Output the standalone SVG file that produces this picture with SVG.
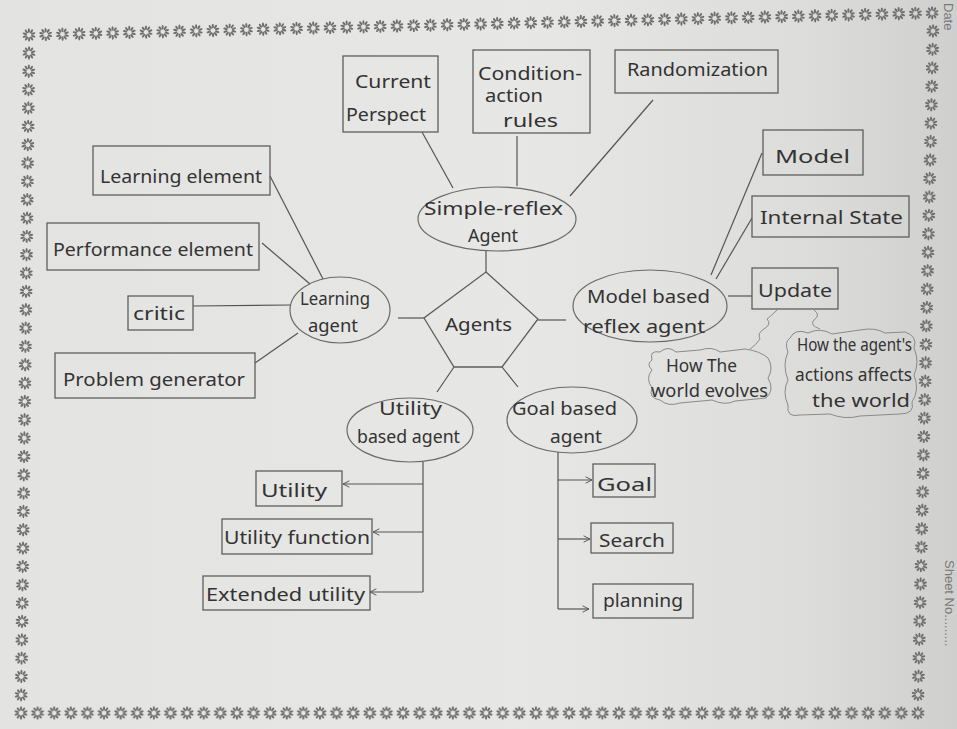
<svg xmlns="http://www.w3.org/2000/svg" xmlns:xlink="http://www.w3.org/1999/xlink" width="957" height="729" viewBox="0 0 957 729">
<style>
.t{font-family:"Noto Sans","DejaVu Sans",sans-serif;fill:#333;font-size:18px}
.box{fill:none;stroke:#5e5e5e;stroke-width:1.3}
.ell{fill:none;stroke:#6a6a6a;stroke-width:1.2}
.ln{fill:none;stroke:#555;stroke-width:1.2}
.cl{fill:none;stroke:#8a8a8a;stroke-width:1}
.pet{fill:#6e6e6e}
.side{font-family:"Liberation Sans",sans-serif;fill:#7a7a7a;font-size:13px}
</style>
<defs>
<linearGradient id="paper" x1="0" y1="0" x2="1" y2="0">
<stop offset="0" stop-color="#e3e3e1"/>
<stop offset="0.55" stop-color="#e7e7e5"/>
<stop offset="0.85" stop-color="#dcdcda"/>
<stop offset="1" stop-color="#cfcfcd"/>
</linearGradient>
<g id="fl">
<ellipse class="pet" cx="0" cy="-4.4" rx="1.05" ry="2.3"/>
<ellipse class="pet" cx="0" cy="-4.4" rx="1.05" ry="2.3" transform="rotate(36)"/>
<ellipse class="pet" cx="0" cy="-4.4" rx="1.05" ry="2.3" transform="rotate(72)"/>
<ellipse class="pet" cx="0" cy="-4.4" rx="1.05" ry="2.3" transform="rotate(108)"/>
<ellipse class="pet" cx="0" cy="-4.4" rx="1.05" ry="2.3" transform="rotate(144)"/>
<ellipse class="pet" cx="0" cy="-4.4" rx="1.05" ry="2.3" transform="rotate(180)"/>
<ellipse class="pet" cx="0" cy="-4.4" rx="1.05" ry="2.3" transform="rotate(216)"/>
<ellipse class="pet" cx="0" cy="-4.4" rx="1.05" ry="2.3" transform="rotate(252)"/>
<ellipse class="pet" cx="0" cy="-4.4" rx="1.05" ry="2.3" transform="rotate(288)"/>
<ellipse class="pet" cx="0" cy="-4.4" rx="1.05" ry="2.3" transform="rotate(324)"/>
</g>
<pattern id="rowH" x="21" y="705" width="16.61" height="16" patternUnits="userSpaceOnUse"><use href="#fl" x="0" y="8"/><use href="#fl" x="16.61" y="8"/></pattern>
<marker id="ar" viewBox="0 0 10 10" refX="9" refY="5" markerWidth="8" markerHeight="8" orient="auto" markerUnits="userSpaceOnUse">
<path d="M1,1 L9,5 L1,9" fill="none" stroke="#555" stroke-width="1.2"/>
</marker>
</defs>

<rect width="957" height="729" fill="url(#paper)"/>

<g id="border">
<g transform="translate(29,35) rotate(-1.4)">
<use href="#fl" x="0"/><use href="#fl" x="16.7"/><use href="#fl" x="33.5"/><use href="#fl" x="50.2"/><use href="#fl" x="66.9"/><use href="#fl" x="83.7"/><use href="#fl" x="100.4"/><use href="#fl" x="117.1"/><use href="#fl" x="133.8"/><use href="#fl" x="150.6"/><use href="#fl" x="167.3"/><use href="#fl" x="184"/><use href="#fl" x="200.8"/><use href="#fl" x="217.5"/><use href="#fl" x="234.2"/><use href="#fl" x="251"/><use href="#fl" x="267.7"/><use href="#fl" x="284.4"/><use href="#fl" x="301.1"/><use href="#fl" x="317.9"/><use href="#fl" x="334.6"/><use href="#fl" x="351.3"/><use href="#fl" x="368.1"/><use href="#fl" x="384.8"/><use href="#fl" x="401.5"/><use href="#fl" x="418.3"/><use href="#fl" x="435"/><use href="#fl" x="451.7"/><use href="#fl" x="468.4"/><use href="#fl" x="485.2"/><use href="#fl" x="501.9"/><use href="#fl" x="518.6"/><use href="#fl" x="535.4"/><use href="#fl" x="552.1"/><use href="#fl" x="568.8"/><use href="#fl" x="585.6"/><use href="#fl" x="602.3"/><use href="#fl" x="619"/><use href="#fl" x="635.7"/><use href="#fl" x="652.5"/><use href="#fl" x="669.2"/><use href="#fl" x="685.9"/><use href="#fl" x="702.7"/><use href="#fl" x="719.4"/><use href="#fl" x="736.1"/><use href="#fl" x="752.9"/><use href="#fl" x="769.6"/><use href="#fl" x="786.3"/><use href="#fl" x="803"/><use href="#fl" x="819.8"/><use href="#fl" x="836.5"/><use href="#fl" x="853.2"/><use href="#fl" x="870"/><use href="#fl" x="886.7"/><use href="#fl" x="903.4"/>
</g>
<g transform="translate(29,53) rotate(0.7)">
<use href="#fl" y="0"/><use href="#fl" y="18.3"/><use href="#fl" y="36.7"/><use href="#fl" y="55"/><use href="#fl" y="73.4"/><use href="#fl" y="91.7"/><use href="#fl" y="110"/><use href="#fl" y="128.4"/><use href="#fl" y="146.7"/><use href="#fl" y="165.1"/><use href="#fl" y="183.4"/><use href="#fl" y="201.7"/><use href="#fl" y="220.1"/><use href="#fl" y="238.4"/><use href="#fl" y="256.8"/><use href="#fl" y="275.1"/><use href="#fl" y="293.4"/><use href="#fl" y="311.8"/><use href="#fl" y="330.1"/><use href="#fl" y="348.5"/><use href="#fl" y="366.8"/><use href="#fl" y="385.1"/><use href="#fl" y="403.5"/><use href="#fl" y="421.8"/><use href="#fl" y="440.2"/><use href="#fl" y="458.5"/><use href="#fl" y="476.8"/><use href="#fl" y="495.2"/><use href="#fl" y="513.5"/><use href="#fl" y="531.9"/><use href="#fl" y="550.2"/><use href="#fl" y="568.5"/><use href="#fl" y="586.9"/><use href="#fl" y="605.2"/><use href="#fl" y="623.6"/><use href="#fl" y="641.9"/>
</g>
<g transform="translate(933,31) rotate(1.29)">
<use href="#fl" y="0"/><use href="#fl" y="18.4"/><use href="#fl" y="36.9"/><use href="#fl" y="55.3"/><use href="#fl" y="73.8"/><use href="#fl" y="92.2"/><use href="#fl" y="110.6"/><use href="#fl" y="129.1"/><use href="#fl" y="147.5"/><use href="#fl" y="166"/><use href="#fl" y="184.4"/><use href="#fl" y="202.8"/><use href="#fl" y="221.3"/><use href="#fl" y="239.7"/><use href="#fl" y="258.2"/><use href="#fl" y="276.6"/><use href="#fl" y="295"/><use href="#fl" y="313.5"/><use href="#fl" y="331.9"/><use href="#fl" y="350.4"/><use href="#fl" y="368.8"/><use href="#fl" y="387.2"/><use href="#fl" y="405.7"/><use href="#fl" y="424.1"/><use href="#fl" y="442.6"/><use href="#fl" y="461"/><use href="#fl" y="479.4"/><use href="#fl" y="497.9"/><use href="#fl" y="516.3"/><use href="#fl" y="534.8"/><use href="#fl" y="553.2"/><use href="#fl" y="571.6"/><use href="#fl" y="590.1"/><use href="#fl" y="608.5"/><use href="#fl" y="627"/><use href="#fl" y="645.4"/><use href="#fl" y="663.8"/>
</g>
<rect x="14" y="705" width="912" height="16" fill="url(#rowH)"/>
<text class="side" transform="translate(945,560) rotate(90)">Sheet No.........</text>
<text class="side" transform="translate(944,3) rotate(90)" font-size="10">Date</text>
</g>

<g id="connectors">
<line class="ln" x1="486" y1="272" x2="486" y2="251"/>
<line class="ln" x1="424" y1="318" x2="398" y2="318"/>
<line class="ln" x1="538" y1="320" x2="566" y2="320"/>
<line class="ln" x1="454" y1="367" x2="437" y2="392"/>
<line class="ln" x1="502" y1="367" x2="518" y2="387"/>
<line class="ln" x1="422" y1="132" x2="453" y2="188"/>
<line class="ln" x1="517" y1="136" x2="517" y2="186"/>
<line class="ln" x1="653" y1="100" x2="570" y2="196"/>
<line class="ln" x1="270" y1="176" x2="323" y2="279"/>
<line class="ln" x1="262" y1="243" x2="310" y2="284"/>
<line class="ln" x1="193" y1="306" x2="291" y2="305"/>
<line class="ln" x1="255" y1="363" x2="298" y2="333"/>
<line class="ln" x1="762" y1="153" x2="711" y2="275"/>
<line class="ln" x1="752" y1="218" x2="716" y2="279"/>
<line class="ln" x1="728" y1="296" x2="752" y2="296"/>
<path class="cl" d="M777,310 q-6,6 -10,9 q5,5 -3,10 q-7,4 -4,10 q-4,6 -10,10"/>
<path class="cl" d="M814,310 q7,5 0,10 q-5,5 6,9"/>
<line class="ln" x1="423" y1="462" x2="423" y2="592"/>
<line class="ln" x1="423" y1="484" x2="343" y2="484" marker-end="url(#ar)"/>
<line class="ln" x1="423" y1="532" x2="373" y2="532" marker-end="url(#ar)"/>
<line class="ln" x1="423" y1="592" x2="370" y2="592" marker-end="url(#ar)"/>
<line class="ln" x1="558" y1="452" x2="558" y2="609"/>
<line class="ln" x1="558" y1="480" x2="592" y2="480" marker-end="url(#ar)"/>
<line class="ln" x1="558" y1="539" x2="590" y2="539" marker-end="url(#ar)"/>
<line class="ln" x1="558" y1="609" x2="589" y2="609" marker-end="url(#ar)"/>
</g>

<g id="agents">
<polygon class="box" points="486,272 538,319 502,367 454,367 424,318"/>
<text class="t" x="445" y="331" font-size="24" textLength="67" lengthAdjust="spacingAndGlyphs">Agents</text>
</g>

<g id="simple-reflex">
<ellipse class="ell" cx="497" cy="219" rx="79" ry="32"/>
<text class="t" x="424" y="215" textLength="139" lengthAdjust="spacingAndGlyphs">Simple-reflex</text>
<text class="t" x="468" y="242" textLength="50" lengthAdjust="spacingAndGlyphs">Agent</text>
</g>
<g id="current-perspect">
<rect class="box" x="343" y="56" width="95" height="76"/>
<text class="t" x="355" y="88" textLength="76" lengthAdjust="spacingAndGlyphs">Current</text>
<text class="t" x="346" y="121" textLength="80" lengthAdjust="spacingAndGlyphs">Perspect</text>
</g>
<g id="condition-action">
<rect class="box" x="473" y="50" width="117" height="83"/>
<text class="t" x="478" y="80" textLength="104" lengthAdjust="spacingAndGlyphs">Condition-</text>
<text class="t" x="485" y="102" textLength="58" lengthAdjust="spacingAndGlyphs">action</text>
<text class="t" x="503" y="127" textLength="55" lengthAdjust="spacingAndGlyphs">rules</text>
</g>
<g id="randomization">
<rect class="box" x="615" y="50" width="163" height="43"/>
<text class="t" x="627" y="76" textLength="141" lengthAdjust="spacingAndGlyphs">Randomization</text>
</g>

<g id="learning-agent">
<ellipse class="ell" cx="340" cy="310" rx="50" ry="33"/>
<text class="t" x="300" y="305" textLength="70" lengthAdjust="spacingAndGlyphs">Learning</text>
<text class="t" x="308" y="332" textLength="50" lengthAdjust="spacingAndGlyphs">agent</text>
</g>
<g id="learning-element">
<rect class="box" x="93" y="146" width="177" height="49"/>
<text class="t" x="100" y="183" textLength="162" lengthAdjust="spacingAndGlyphs">Learning element</text>
</g>
<g id="performance-element">
<rect class="box" x="47" y="223" width="212" height="47"/>
<text class="t" x="53" y="256" textLength="200" lengthAdjust="spacingAndGlyphs">Performance element</text>
</g>
<g id="critic">
<rect class="box" x="128" y="296" width="65" height="34"/>
<text class="t" x="133" y="320" textLength="52" lengthAdjust="spacingAndGlyphs">critic</text>
</g>
<g id="problem-generator">
<rect class="box" x="55" y="353" width="200" height="45"/>
<text class="t" x="63" y="386" textLength="182" lengthAdjust="spacingAndGlyphs">Problem generator</text>
</g>

<g id="model-based">
<ellipse class="ell" cx="650" cy="306" rx="77" ry="36"/>
<text class="t" x="587" y="303" textLength="123" lengthAdjust="spacingAndGlyphs">Model based</text>
<text class="t" x="583" y="333" textLength="122" lengthAdjust="spacingAndGlyphs">reflex agent</text>
</g>
<g id="model">
<rect class="box" x="763" y="130" width="100" height="45"/>
<text class="t" x="775" y="163" font-size="22" textLength="75" lengthAdjust="spacingAndGlyphs">Model</text>
</g>
<g id="internal-state">
<rect class="box" x="752" y="196" width="157" height="41"/>
<text class="t" x="760" y="224" textLength="143" lengthAdjust="spacingAndGlyphs">Internal State</text>
</g>
<g id="update">
<rect class="box" x="752" y="268" width="86" height="41"/>
<text class="t" x="758" y="297" textLength="74" lengthAdjust="spacingAndGlyphs">Update</text>
</g>
<g id="world-evolves">
<path class="cl" d="M652,360 Q649,350 660,352 Q668,345 676,352 L700,350 Q712,346 720,352 L745,349 Q760,351 768,358 Q774,368 768,378 Q775,390 766,398 L735,401 Q725,406 712,400 L680,403 Q668,407 660,400 Q648,398 652,388 Q645,378 652,370 Q646,364 652,360 Z"/>
<text class="t" x="666" y="372" font-size="16" textLength="71" lengthAdjust="spacingAndGlyphs">How The</text>
<text class="t" x="651" y="397" font-size="16" textLength="117" lengthAdjust="spacingAndGlyphs">world evolves</text>
</g>
<g id="agent-actions">
<path class="cl" d="M790,338 Q795,328 808,333 Q820,327 832,334 L860,330 Q875,327 885,333 L905,332 Q918,336 914,348 Q920,362 914,375 Q920,390 912,402 Q915,414 900,414 L860,416 Q845,420 830,414 L800,415 Q786,418 788,405 Q782,392 788,380 Q782,365 788,352 Q784,342 790,338 Z"/>
<text class="t" x="797" y="351" font-size="16" textLength="115" lengthAdjust="spacingAndGlyphs">How the agent's</text>
<text class="t" x="795" y="381" font-size="16" textLength="117" lengthAdjust="spacingAndGlyphs">actions affects</text>
<text class="t" x="812" y="407" font-size="16" textLength="98" lengthAdjust="spacingAndGlyphs">the world</text>
</g>

<g id="utility-based">
<ellipse class="ell" cx="410" cy="430" rx="63" ry="32"/>
<text class="t" x="379" y="415" textLength="63" lengthAdjust="spacingAndGlyphs">Utility</text>
<text class="t" x="357" y="443" textLength="103" lengthAdjust="spacingAndGlyphs">based agent</text>
</g>
<g id="utility">
<rect class="box" x="256" y="471" width="86" height="35"/>
<text class="t" x="261" y="497" textLength="66" lengthAdjust="spacingAndGlyphs">Utility</text>
</g>
<g id="utility-function">
<rect class="box" x="222" y="519" width="150" height="35"/>
<text class="t" x="224" y="544" textLength="146" lengthAdjust="spacingAndGlyphs">Utility function</text>
</g>
<g id="extended-utility">
<rect class="box" x="203" y="576" width="167" height="34"/>
<text class="t" x="206" y="601" textLength="159" lengthAdjust="spacingAndGlyphs">Extended utility</text>
</g>

<g id="goal-based">
<ellipse class="ell" cx="572" cy="420" rx="65" ry="33"/>
<text class="t" x="512" y="415" textLength="105" lengthAdjust="spacingAndGlyphs">Goal based</text>
<text class="t" x="550" y="443" textLength="52" lengthAdjust="spacingAndGlyphs">agent</text>
</g>
<g id="goal">
<rect class="box" x="593" y="464" width="62" height="33"/>
<text class="t" x="597" y="491" font-size="22" textLength="55" lengthAdjust="spacingAndGlyphs">Goal</text>
</g>
<g id="search">
<rect class="box" x="591" y="523" width="82" height="30"/>
<text class="t" x="599" y="547" textLength="66" lengthAdjust="spacingAndGlyphs">Search</text>
</g>
<g id="planning">
<rect class="box" x="593" y="584" width="100" height="34"/>
<text class="t" x="603" y="607" textLength="80" lengthAdjust="spacingAndGlyphs">planning</text>
</g>
</svg>
